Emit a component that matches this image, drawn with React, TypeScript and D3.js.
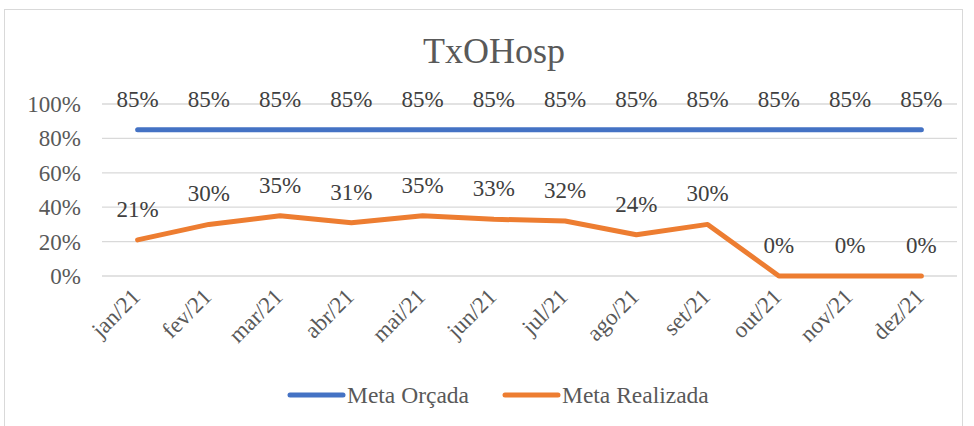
import { useEffect, useRef } from "react";
import * as d3 from "d3";

const months = ["jan/21", "fev/21", "mar/21", "abr/21", "mai/21", "jun/21", "jul/21", "ago/21", "set/21", "out/21", "nov/21", "dez/21"];
const metaOrcada = [0.85, 0.85, 0.85, 0.85, 0.85, 0.85, 0.85, 0.85, 0.85, 0.85, 0.85, 0.85];
const metaRealizada = [0.21, 0.30, 0.35, 0.31, 0.35, 0.33, 0.32, 0.24, 0.30, 0, 0, 0];
const yTicks = [0, 0.2, 0.4, 0.6, 0.8, 1.0];

export default function App() {
  const svgRef = useRef<SVGSVGElement | null>(null);

  useEffect(() => {
    const width = 974;
    const height = 426;
    const font = "'Liberation Serif', 'Times New Roman', serif";
    const textColor = "#595959";

    const svg = d3.select(svgRef.current);
    svg.selectAll("*").remove();
    svg.attr("width", width).attr("height", height);

    // chart frame
    svg
      .append("rect")
      .attr("x", 4.5)
      .attr("y", 9.5)
      .attr("width", 958)
      .attr("height", 430)
      .attr("fill", "#fff")
      .attr("stroke", "#d9d9d9");

    svg
      .append("text")
      .attr("x", 494)
      .attr("y", 63)
      .attr("text-anchor", "middle")
      .style("font-family", font)
      .style("font-size", "36px")
      .attr("fill", textColor)
      .text("TxOHosp");

    const x = d3.scaleBand().domain(months).range([102, 957]);
    const y = d3.scaleLinear().domain([0, 1]).range([276, 104]);
    const cx = (d: string) => (x(d) ?? 0) + x.bandwidth() / 2;

    // gridlines
    svg
      .append("g")
      .selectAll("line")
      .data(yTicks)
      .enter()
      .append("line")
      .attr("x1", 102)
      .attr("x2", 957)
      .attr("y1", (d) => y(d))
      .attr("y2", (d) => y(d))
      .attr("stroke", "#d9d9d9")
      .attr("stroke-width", 1.3);

    // y tick labels
    svg
      .append("g")
      .selectAll("text")
      .data(yTicks)
      .enter()
      .append("text")
      .attr("x", 81)
      .attr("y", (d) => y(d) + 8)
      .attr("text-anchor", "end")
      .style("font-family", font)
      .style("font-size", "23px")
      .attr("fill", textColor)
      .text((d) => d3.format(".0%")(d));

    // x tick labels
    svg
      .append("g")
      .selectAll("text")
      .data(months)
      .enter()
      .append("text")
      .attr("transform", (d) => `translate(${cx(d) + 4}, 298) rotate(-45)`)
      .attr("text-anchor", "end")
      .style("font-family", font)
      .style("font-size", "23px")
      .attr("fill", textColor)
      .text((d) => d);

    const series = [
      { name: "Meta Orçada", values: metaOrcada, color: "#4472C4" },
      { name: "Meta Realizada", values: metaRealizada, color: "#ED7D31" },
    ];

    const line = d3
      .line<number>()
      .x((_, i) => cx(months[i]))
      .y((d) => y(d));

    series.forEach((s) => {
      svg
        .append("path")
        .datum(s.values)
        .attr("d", line)
        .attr("fill", "none")
        .attr("stroke", s.color)
        .attr("stroke-width", 5)
        .attr("stroke-linecap", "round")
        .attr("stroke-linejoin", "round");

      svg
        .append("g")
        .selectAll("text")
        .data(s.values)
        .enter()
        .append("text")
        .attr("x", (_, i) => cx(months[i]))
        .attr("y", (d) => y(d) - 23)
        .attr("text-anchor", "middle")
        .style("font-family", font)
        .style("font-size", "23px")
        .attr("fill", "#404040")
        .text((d) => d3.format(".0%")(d));
    });

    // legend
    const legendX = [288, 503];
    series.forEach((s, i) => {
      const g = svg.append("g").attr("transform", `translate(${legendX[i]}, 395)`);
      g.append("line")
        .attr("x1", 2)
        .attr("x2", 55)
        .attr("stroke", s.color)
        .attr("stroke-width", 5)
        .attr("stroke-linecap", "round");
      g.append("text")
        .attr("x", 59)
        .attr("y", 8)
        .style("font-family", font)
        .style("font-size", "23.5px")
        .attr("fill", textColor)
        .text(s.name);
    });
  }, []);

  return <svg ref={svgRef} style={{ position: "absolute", left: 0, top: 0 }}></svg>;
}
